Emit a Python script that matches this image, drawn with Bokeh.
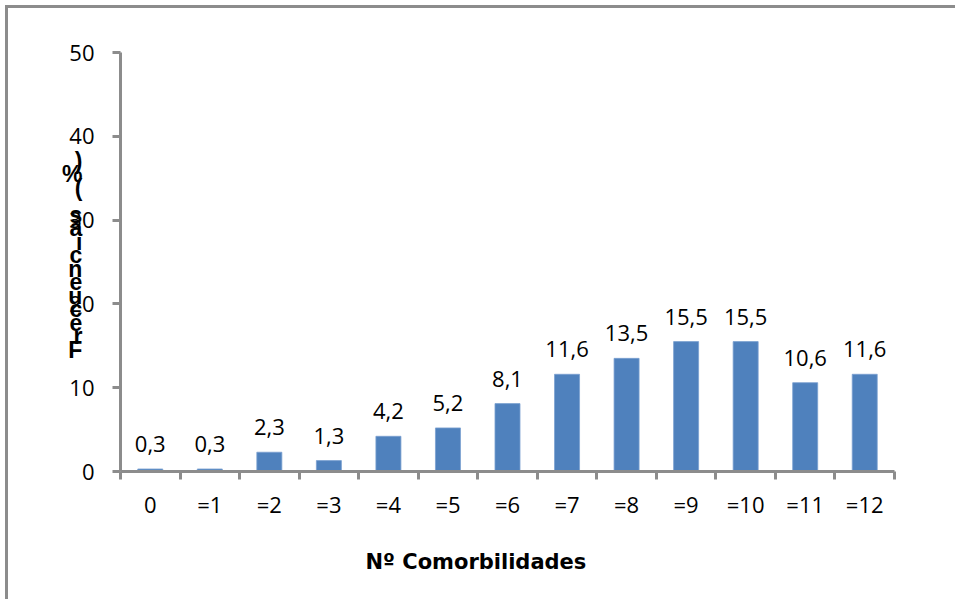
from bokeh.plotting import figure
from bokeh.models import ColumnDataSource, FixedTicker, Title
from bokeh.core.properties import value
from bokeh.embed import file_html
from bokeh.resources import INLINE

categories = ["0", "=1", "=2", "=3", "=4", "=5", "=6", "=7", "=8", "=9", "=10", "=11", "=12"]
frequencies = [0.3, 0.3, 2.3, 1.3, 4.2, 5.2, 8.1, 11.6, 13.5, 15.5, 15.5, 10.6, 11.6]
y_ticks = [0, 10, 20, 30, 40, 50]
x_title = "Nº Comorbilidades"
y_title = "Frecuencias (%)"

n = len(categories)
centers = [i + 0.5 for i in range(n)]
labels = [f"{v:.1f}".replace(".", ",") for v in frequencies]
src = ColumnDataSource(dict(x=centers, top=frequencies, lab=labels))

p = figure(width=950, height=594, output_backend="svg", toolbar_location=None,
           x_range=(0, n), y_range=(0, 50),
           min_border_left=112, min_border_right=64, min_border_top=44, min_border_bottom=131)
p.styles = {"border-left": "3px solid #8c8c8c", "border-top": "3px solid #8c8c8c",
            "margin-left": "5px", "margin-top": "5px"}
p.outline_line_color = None
p.xgrid.grid_line_color = None
p.ygrid.grid_line_color = None
p.background_fill_color = "white"
p.border_fill_color = "white"

p.vbar(x="x", top="top", width=0.42, source=src, fill_color="#4F81BD", line_color="#7a9fd0", line_width=0.8)
p.text(x="x", y="top", text="lab", source=src, text_align="center", text_baseline="alphabetic",
       y_offset=-25, text_font=value("Open Sans"), text_font_size="22px", text_color="#000000")

gray = "#8c8c8c"
xa = p.xaxis[0]
xa.ticker = FixedTicker(ticks=centers, minor_ticks=list(range(n + 1)))
xa.major_label_overrides = {c: lab for c, lab in zip(centers, categories)}
xa.major_tick_line_color = None
xa.minor_tick_line_color = gray
xa.minor_tick_line_width = 3
xa.minor_tick_out = 8
xa.minor_tick_in = 0
xa.axis_line_color = gray
xa.axis_line_width = 3
xa.major_label_standoff = 9
xa.major_label_text_font = "Open Sans"
xa.major_label_text_font_size = "22px"
xa.major_label_text_color = "#000000"

ya = p.yaxis[0]
ya.ticker = FixedTicker(ticks=y_ticks, minor_ticks=[])
ya.major_tick_line_color = gray
ya.major_tick_line_width = 3
ya.major_tick_out = 8
ya.major_tick_in = 0
ya.minor_tick_line_color = None
ya.axis_line_color = gray
ya.axis_line_width = 3
ya.major_label_standoff = 18
ya.major_label_text_font = "Open Sans"
ya.major_label_text_font_size = "22px"
ya.major_label_text_color = "#000000"
ya.axis_label = "\n".join(reversed(y_title)) + "\n\u00a0"
ya.axis_label_orientation = "horizontal"
ya.axis_label_standoff = -16
ya.axis_label_text_font = "Liberation Sans"
ya.axis_label_text_font_style = "bold"
ya.axis_label_text_font_size = "23px"
ya.axis_label_text_line_height = 0.52
ya.axis_label_text_color = "#000000"

t = Title(text=x_title, align="left", offset=245, standoff=52,
          text_font="DejaVu Sans", text_font_style="bold", text_font_size="21px", text_color="#000000")
p.add_layout(t, "below")

open("out.html", "w").write(file_html(p, INLINE))
